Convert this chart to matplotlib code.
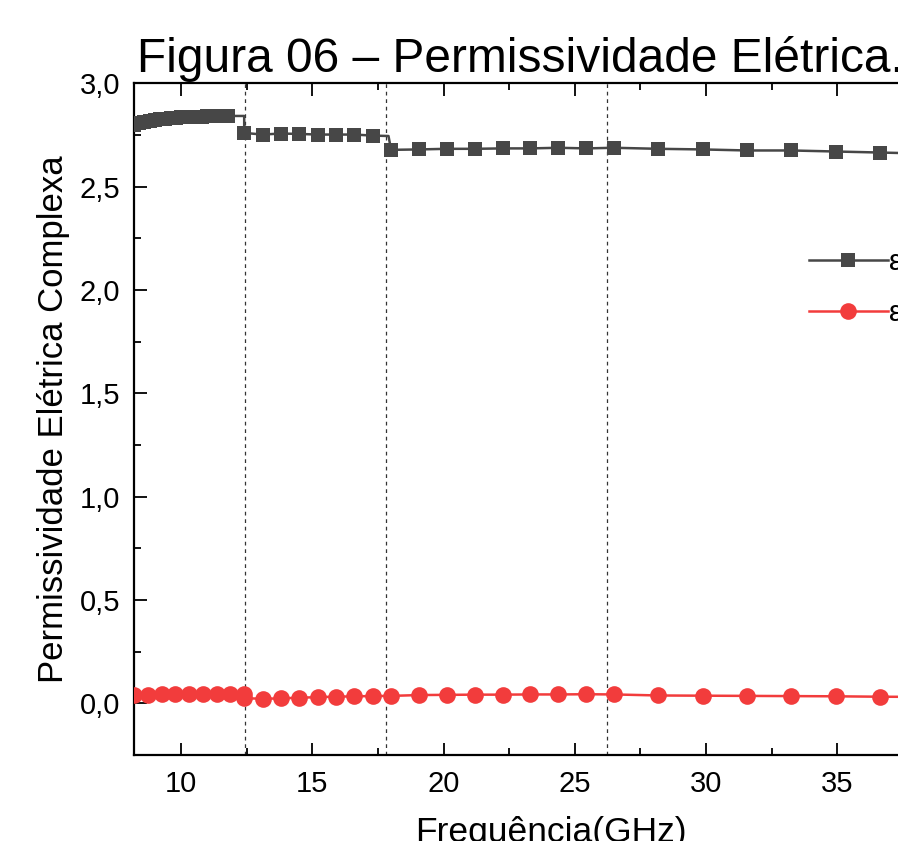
import matplotlib
matplotlib.use('Agg')
import matplotlib.pyplot as plt
from matplotlib.ticker import MultipleLocator, FuncFormatter

plt.rcParams['font.family'] = ['Liberation Sans', 'DejaVu Sans']

# ---------------- data ----------------
# Real part (eps') : X, Ku, K, Ka bands
real_freq = [8.2, 8.4, 8.6, 8.8, 9.0, 9.2, 9.4, 9.6, 9.8, 10.0, 10.2, 10.4, 10.6, 10.8,
             11.0, 11.2, 11.4, 11.6, 11.8, 12.4,
             12.4, 13.1, 13.8, 14.5, 15.2, 15.9, 16.6, 17.3, 17.9,
             18.0, 19.06, 20.12, 21.19, 22.25, 23.31, 24.38, 25.44, 26.5,
             28.19, 29.88, 31.56, 33.25, 34.94, 36.63, 38.31]
real_vals = [2.800, 2.808, 2.814, 2.819, 2.823, 2.826, 2.829, 2.831, 2.833, 2.835, 2.836,
             2.837, 2.838, 2.839, 2.840, 2.840, 2.841, 2.841, 2.842, 2.842,
             2.760, 2.752, 2.757, 2.755, 2.752, 2.752, 2.752, 2.747, 2.745,
             2.678, 2.680, 2.683, 2.683, 2.685, 2.685, 2.688, 2.685, 2.688,
             2.683, 2.680, 2.675, 2.675, 2.670, 2.665, 2.660]
real_no_marker = [19, 28]

# Imaginary part (eps'')
imag_freq = [8.2, 8.725, 9.25, 9.775, 10.3, 10.825, 11.35, 11.875, 12.4,
             12.4, 13.1, 13.8, 14.5, 15.2, 15.9, 16.6, 17.3, 18.0,
             19.06, 20.12, 21.19, 22.25, 23.31, 24.38, 25.44, 26.5,
             28.19, 29.88, 31.56, 33.25, 34.94, 36.63, 38.31]
imag_vals = [0.040, 0.042, 0.043, 0.043, 0.044, 0.044, 0.044, 0.044, 0.043,
             0.025, 0.022, 0.024, 0.027, 0.030, 0.032, 0.034, 0.035, 0.036,
             0.040, 0.041, 0.042, 0.042, 0.043, 0.043, 0.044, 0.043,
             0.038, 0.037, 0.036, 0.035, 0.034, 0.032, 0.031]

band_edges = [12.42, 17.8, 26.22]

labels = ["ε'", "ε''"]
title = "Figura 06 – Permissividade Elétrica."
xlabel = "Frequência(GHz)"
ylabel = "Permissividade Elétrica Complexa"

# ---------------- figure ----------------
W, H = 898, 841
fig = plt.figure(figsize=(W / 100, H / 100), dpi=100)
ax = fig.add_axes([134 / W, (H - 755) / H, (968.3 - 134) / W, (755 - 83.3) / H])

dark = '#474747'
red = '#f23c3c'

real_marks = [i for i in range(len(real_freq)) if i not in real_no_marker]
ax.plot(real_freq, real_vals, '-', color=dark, lw=1.8, marker='s', markersize=10,
        markeredgewidth=0, markevery=real_marks, label=labels[0], zorder=3)
ax.plot(imag_freq, imag_vals, '-', color=red, lw=1.8, marker='o', markersize=12,
        markeredgewidth=0, label=labels[1], zorder=3)

for b in band_edges:
    ax.axvline(b, color='#333333', lw=0.9, ls=(0, (3, 3)), zorder=2)

ax.set_xlim(8.2, 40)
ax.set_ylim(-0.25, 3.0)
ax.xaxis.set_major_locator(MultipleLocator(5))
ax.xaxis.set_minor_locator(MultipleLocator(2.5))
ax.yaxis.set_major_locator(MultipleLocator(0.5))
ax.yaxis.set_minor_locator(MultipleLocator(0.25))
ax.yaxis.set_major_formatter(FuncFormatter(lambda v, p: f"{v:.1f}".replace('.', ',')))

ax.tick_params(which='both', direction='in', top=True, right=False, width=1.3)
ax.tick_params(which='major', length=9, labelsize=21, colors='black')
ax.tick_params(which='minor', length=5)
ax.tick_params(axis='y', which='major', pad=10)
ax.tick_params(axis='x', which='major', pad=11)
for s in ax.spines.values():
    s.set_linewidth(1.6)

ax.set_xlabel(xlabel, fontsize=25.5, labelpad=13)
ax.set_ylabel(ylabel, fontsize=25, labelpad=7)

fig.text(137 / W, 1 - 72 / H, title, fontsize=34.5, ha='left', va='baseline')

leg = ax.legend(loc='upper left', bbox_to_anchor=(809 / W, 1 - 248 / H),
                bbox_transform=fig.transFigure, frameon=False, fontsize=21,
                handlelength=2.7, handletextpad=0.05, borderpad=0, borderaxespad=0,
                labelspacing=0.8)

fig.savefig('out.png', dpi=100)
